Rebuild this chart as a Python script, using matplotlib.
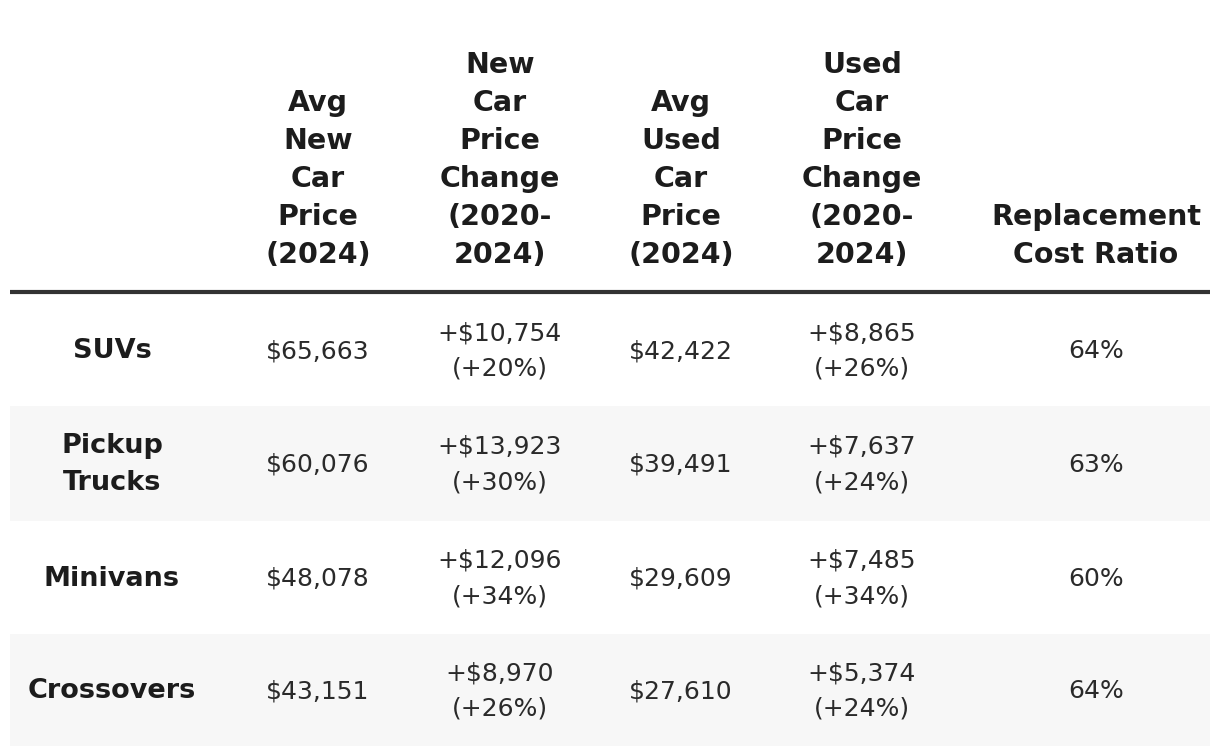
import matplotlib
matplotlib.use("Agg")
import matplotlib.pyplot as plt
from matplotlib.patches import Rectangle

# ---- data ----
categories = ["SUVs", "Pickup\nTrucks", "Minivans", "Crossovers"]
headers = ["Avg\nNew\nCar\nPrice\n(2024)",
           "New\nCar\nPrice\nChange\n(2020-\n2024)",
           "Avg\nUsed\nCar\nPrice\n(2024)",
           "Used\nCar\nPrice\nChange\n(2020-\n2024)",
           "Replacement\nCost Ratio"]
avg_new_price = [65663, 60076, 48078, 43151]
new_change_abs = [10754, 13923, 12096, 8970]
new_change_pct = [20, 30, 34, 26]
avg_used_price = [42422, 39491, 29609, 27610]
used_change_abs = [8865, 7637, 7485, 5374]
used_change_pct = [26, 24, 34, 24]
replacement_ratio = [64, 63, 60, 64]

# ---- layout ----
W, H = 1220, 756
fig = plt.figure(figsize=(W / 100, H / 100), dpi=100)
ax = fig.add_axes([0, 0, 1, 1])
ax.set_xlim(0, W)
ax.set_ylim(H, 0)
ax.axis("off")

FONT = "DejaVu Sans"
col_x = [112, 318, 500, 681, 862, 1096]
row_top = [294, 406, 521, 634]
row_bot = [406, 521, 634, 746]
left, right = 10, 1210
line_h = 38
head_color = "#1c1c1c"
body_color = "#2a2a2a"

# header
for x, h in zip(col_x[1:], headers):
    lines = h.split("\n")
    n = len(lines)
    for i, line in enumerate(lines):
        y = 255 - (n - 1 - i) * line_h
        ax.text(x, y, line, ha="center", va="center", fontsize=20.5,
                fontweight="bold", family=FONT, color=head_color)

ax.plot([left, right], [292, 292], color="#333333", lw=3, solid_capstyle="butt")

# rows
for r in range(len(categories)):
    if r % 2 == 1:
        ax.add_patch(Rectangle((left, row_top[r]), right - left,
                               row_bot[r] - row_top[r], color="#f7f7f7", lw=0))
    yc = (row_top[r] + row_bot[r]) / 2 + 1
    ax.text(col_x[0], yc, categories[r], ha="center", va="center", fontsize=19.5,
            fontweight="bold", family=FONT, color=head_color, linespacing=1.55)
    cells = [
        f"${avg_new_price[r]:,}",
        f"+${new_change_abs[r]:,}\n(+{new_change_pct[r]}%)",
        f"${avg_used_price[r]:,}",
        f"+${used_change_abs[r]:,}\n(+{used_change_pct[r]}%)",
        f"{replacement_ratio[r]}%",
    ]
    for x, c in zip(col_x[1:], cells):
        ax.text(x, yc, c, ha="center", va="center", fontsize=18,
                family=FONT, color=body_color, linespacing=1.6)

fig.savefig("out.png", dpi=100, facecolor="white")
